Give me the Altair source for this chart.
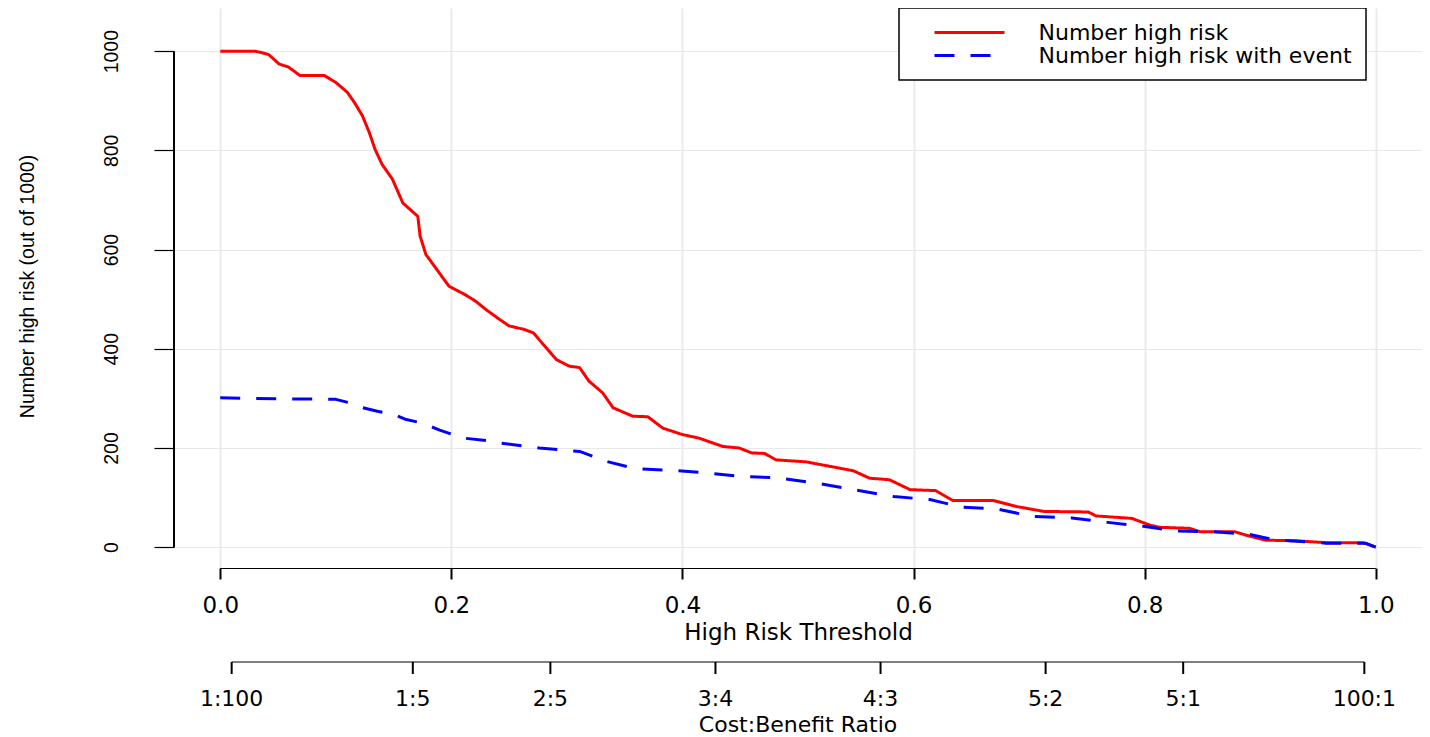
import altair as alt
import pandas as pd

# ---- data ----
thr_red = [0.000, 0.030, 0.036, 0.042, 0.051, 0.059, 0.069, 0.090, 0.100, 0.110,
           0.116, 0.123, 0.129, 0.134, 0.140, 0.149, 0.158, 0.171, 0.173, 0.178,
           0.198, 0.212, 0.221, 0.230, 0.240, 0.250, 0.263, 0.271, 0.291, 0.302,
           0.311, 0.319, 0.331, 0.340, 0.357, 0.370, 0.383, 0.400, 0.414, 0.435,
           0.449, 0.460, 0.471, 0.481, 0.507, 0.548, 0.562, 0.579, 0.597, 0.619,
           0.634, 0.669, 0.689, 0.713, 0.751, 0.758, 0.789, 0.805, 0.813, 0.839,
           0.848, 0.878, 0.888, 0.905, 0.930, 0.957, 0.989, 1.000]
num_red = [1000, 1000, 997, 993, 974, 968, 951, 951, 937, 917,
           897, 870, 836, 802, 772, 742, 694, 667, 627, 590,
           526, 509, 496, 479, 462, 446, 439, 432, 378, 365,
           362, 335, 311, 281, 264, 263, 240, 227, 220, 203,
           200, 190, 189, 176, 172, 154, 139, 136, 116, 114,
           94, 94, 82, 72, 71, 63, 58, 44, 40, 38,
           31, 31, 24, 14, 13, 9, 9, 0]

thr_blue = [0.000, 0.030, 0.060, 0.100, 0.112, 0.122, 0.136, 0.150, 0.160, 0.175,
            0.190, 0.200, 0.210, 0.235, 0.242, 0.276, 0.311, 0.334, 0.360, 0.391,
            0.420, 0.449, 0.481, 0.517, 0.548, 0.583, 0.614, 0.641, 0.672, 0.703,
            0.737, 0.768, 0.799, 0.825, 0.860, 0.890, 0.912, 0.957, 0.991, 1.000]
num_blue = [301, 300, 299, 298, 291, 282, 274, 268, 258, 250,
            236, 228, 220, 214, 210, 200, 193, 173, 158, 155,
            150, 143, 140, 129, 116, 102, 96, 81, 77, 62,
            59, 50, 42, 33, 31, 26, 15, 8, 8, 0]

series_names = ["Number high risk", "Number high risk with event"]
series_colors = ["#FF0000", "#0000FF"]
series_dash = [[1, 0], [20, 16]]

x_ticks = [0.0, 0.2, 0.4, 0.6, 0.8, 1.0]
y_ticks = [0, 200, 400, 600, 800, 1000]

cb_cost = [1, 1, 2, 3, 4, 5, 5, 100]
cb_benefit = [100, 5, 5, 4, 3, 2, 1, 1]

x_title = "High Risk Threshold"
y_title = "Number high risk (out of 1000)"
cb_title = "Cost:Benefit Ratio"

# ---- tables ----
df_lines = pd.concat([
    pd.DataFrame({"t": thr_red, "v": num_red, "series": series_names[0]}),
    pd.DataFrame({"t": thr_blue, "v": num_blue, "series": series_names[1]}),
], ignore_index=True)

df_cb = pd.DataFrame({
    "t": [c / (c + b) for c, b in zip(cb_cost, cb_benefit)],
    "label": [f"{c}:{b}" for c, b in zip(cb_cost, cb_benefit)],
})
df_cb_line = pd.DataFrame({"t": [df_cb["t"].min()], "t2": [df_cb["t"].max()]})
df_xline = pd.DataFrame({"t": [min(x_ticks)], "t2": [max(x_ticks)]})
df_yline = pd.DataFrame({"v": [min(y_ticks)], "v2": [max(y_ticks)]})
df_cb_title = pd.DataFrame({"title": [cb_title]})

W, H = 1248, 560
FONT = "DejaVu Sans"
YFONT = "Liberation Sans"

xscale = alt.Scale(domain=[-0.04, 1.04], nice=False, zero=False)
yscale = alt.Scale(domain=[-42, 1087], nice=False, zero=False)

x_axis = alt.Axis(
    values=x_ticks, format=".1f", domain=False,
    tickSize=11, tickWidth=2, tickColor="black",
    labelFont=FONT, labelFontSize=23, labelColor="black",
    labelPadding=26, labelBaseline="middle", labelFlush=False, labelOverlap=False,
    grid=True, gridColor="#EBEBEB", gridWidth=2,
    title=x_title, titleFont=FONT, titleFontSize=23, titleFontWeight="normal",
    titleColor="black", titleX=W / 2, titleY=64, titleBaseline="middle",
    titleAlign="center")

y_axis = alt.Axis(
    values=y_ticks, format="d", domain=False,
    tickSize=20, tickWidth=1.2, tickColor="black",
    labelAngle=270, labelAlign="center", labelBaseline="middle",
    labelPadding=43, labelFont=YFONT, labelFontSize=19.5, labelColor="black",
    grid=True, gridColor="#E8E8E8", gridWidth=1.2,
    title=y_title, titleAngle=270, titleX=-147, titleY=278,
    titleFont=YFONT, titleFontSize=19.5, titleFontWeight="normal",
    titleColor="black", titleBaseline="middle", titleAlign="center")

legend = alt.Legend(
    title=None, orient="none", legendX=725, legendY=0, direction="vertical",
    strokeColor="black", fillColor="white", padding=13.5,
    symbolType="M-5,0H5", symbolSize=196, symbolStrokeWidth=3,
    symbolOffset=46, labelOffset=58, labelFont=FONT, labelFontSize=22,
    labelColor="black", labelLimit=0, rowPadding=1, cornerRadius=0,
)

X = lambda f: alt.X(f, scale=xscale, axis=x_axis)
Y = lambda f: alt.Y(f, scale=yscale, axis=y_axis)

lines = alt.Chart(df_lines).mark_line(strokeWidth=3, strokeJoin="round").encode(
    x=X("t:Q"),
    y=Y("v:Q"),
    color=alt.Color("series:N", scale=alt.Scale(domain=series_names, range=series_colors), legend=legend),
    strokeDash=alt.StrokeDash("series:N", scale=alt.Scale(domain=series_names, range=series_dash), legend=legend),
)

y_axis_line = alt.Chart(df_yline).mark_rule(color="black", strokeWidth=2).encode(
    x=alt.value(0),
    y=Y("v:Q"),
    y2="v2:Q",
)

x_axis_line = alt.Chart(df_xline).mark_rule(color="black", strokeWidth=1.2).encode(
    x=X("t:Q"),
    x2="t2:Q",
    y=alt.value(H + 0.5),
)

cb_line = alt.Chart(df_cb_line).mark_rule(color="black", strokeWidth=1.2).encode(
    x=X("t:Q"),
    x2="t2:Q",
    y=alt.value(654),
)

cb_ticks = alt.Chart(df_cb).mark_rule(color="black", strokeWidth=2).encode(
    x=X("t:Q"),
    y=alt.value(654),
    y2=alt.value(666),
)

cb_labels = alt.Chart(df_cb).mark_text(
    font=FONT, fontSize=22, color="black", baseline="middle", align="center"
).encode(
    x=X("t:Q"),
    y=alt.value(691),
    text="label:N",
)

cb_title_mark = alt.Chart(df_cb_title).mark_text(
    font=FONT, fontSize=22, color="black", baseline="middle", align="center"
).encode(
    x=alt.value(W / 2),
    y=alt.value(717),
    text="title:N",
)

chart = alt.layer(
    lines, y_axis_line, x_axis_line, cb_line, cb_ticks, cb_labels, cb_title_mark
).properties(
    width=W, height=H,
    autosize=alt.AutoSizeParams(type="none"),
    padding={"left": 166, "top": 0, "right": 0, "bottom": 168},
    background="white",
).configure_view(stroke=None).configure_legend(strokeWidth=1.5)

chart.save("out.html", embed_options={"renderer": "svg", "actions": False})
